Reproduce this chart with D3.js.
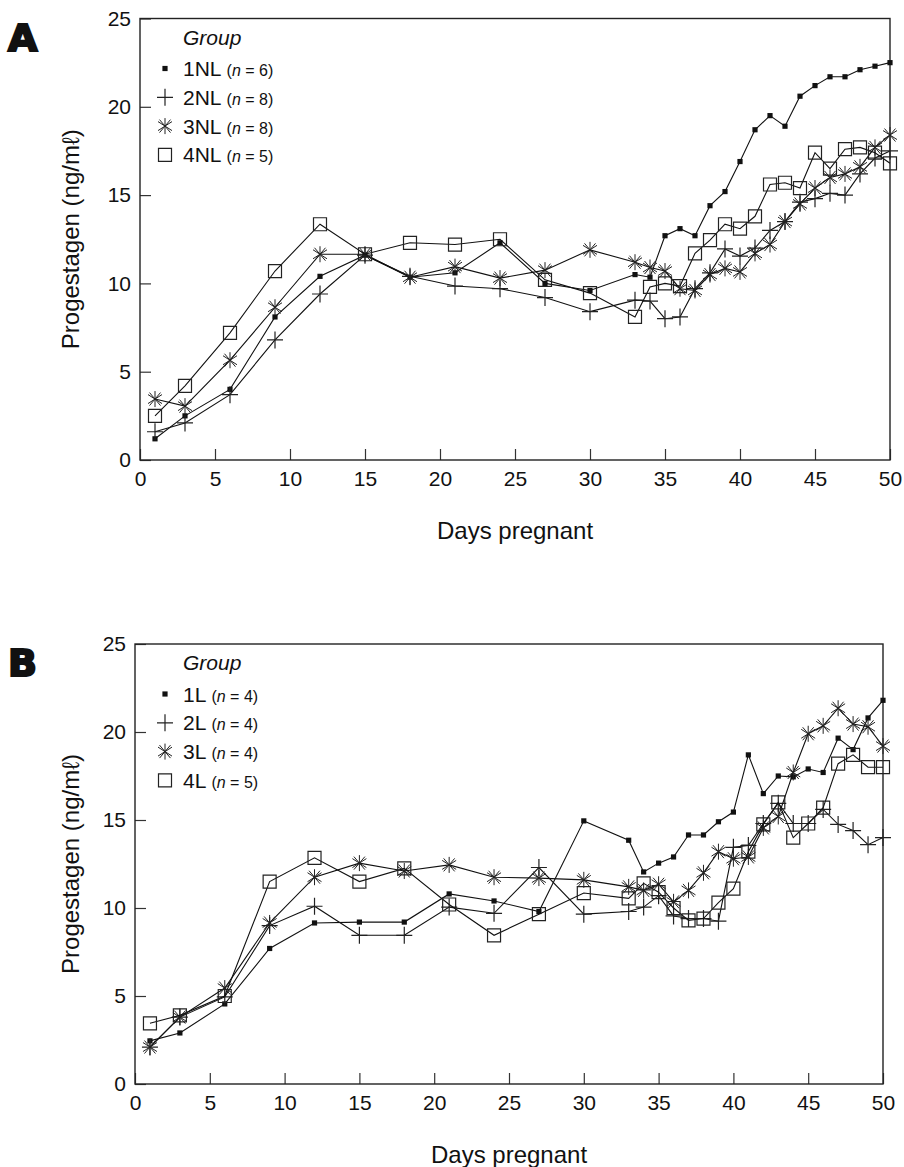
<!DOCTYPE html>
<html>
<head>
<meta charset="utf-8">
<script src="https://cdn.jsdelivr.net/npm/d3@7"></script>
<style>
  body { margin: 0; background: #fff; }
  svg { display: block; }
  text { font-family: "Liberation Sans", Arial, sans-serif; fill: #111; }
  .tick text { font-family: "Liberation Sans Narrow", "Liberation Sans", sans-serif; font-size: 21px; }
</style>
</head>
<body>
<div id="chart"></div>
<script>
const days = [1,3,6,9,12,15,18,21,24,27,30,33,34,35,36,37,38,39,40,41,42,43,44,45,46,47,48,49,50]

const nl1 = [1.2,2.5,4.0,8.1,10.4,11.6,10.35,10.6,12.3,10.0,9.6,10.5,10.35,12.7,13.1,12.7,14.4,15.2,16.9,18.7,19.5,18.9,20.6,21.2,21.7,21.7,22.1,22.3,22.5]
const nl2 = [1.6,2.1,3.7,6.8,9.4,11.6,10.4,9.85,9.7,9.2,8.4,9.05,9.0,8.0,8.1,9.7,10.6,11.95,11.55,12.0,13.0,13.5,14.6,14.8,15.1,15.0,16.2,17.1,17.5]
const nl3 = [3.45,3.05,5.65,8.65,11.65,11.65,10.35,10.95,10.3,10.75,11.9,11.2,10.9,10.7,9.7,9.6,10.5,10.85,10.65,11.7,12.2,13.5,14.5,15.4,16.0,16.2,16.6,17.7,18.4]
const nl4 = [2.5,4.2,7.2,10.7,13.35,11.65,12.3,12.2,12.5,10.2,9.45,8.1,9.8,10.0,9.85,11.7,12.45,13.35,13.1,13.8,15.6,15.7,15.4,17.4,16.5,17.6,17.7,17.4,16.8]

const l1 = [2.45,2.9,4.55,7.7,9.15,9.2,9.2,10.8,10.4,9.8,14.95,13.85,12.05,12.55,12.9,14.15,14.15,14.9,15.45,18.7,16.5,17.5,17.45,17.9,17.7,19.65,19.0,20.8,21.8]
const l2 = [2.1,3.8,4.95,9.0,10.1,8.45,8.45,10.05,9.7,12.3,9.65,9.8,10.05,10.7,9.55,9.4,9.4,9.25,13.45,13.55,14.8,15.95,14.8,14.8,15.6,14.75,14.4,13.6,14.0]
const l3 = [2.1,3.8,5.45,9.15,11.75,12.55,12.1,12.45,11.75,11.7,11.6,11.2,11.0,11.35,10.35,11.0,12.0,13.2,12.8,12.9,14.55,15.2,17.7,19.9,20.35,21.35,20.45,20.3,19.2]
const l4 = [3.45,3.9,5.0,11.5,12.85,11.5,12.25,10.2,8.45,9.65,10.85,10.55,11.4,10.9,10.0,9.3,9.4,10.3,11.1,13.2,14.75,16.0,14.0,14.8,15.7,18.2,18.7,18.0,18.0]

const groupsA = ["1NL", "2NL", "3NL", "4NL"]
const nA = [6, 8, 8, 5]
const groupsB = ["1L", "2L", "3L", "4L"]
const nB = [4, 4, 4, 5]
const markers = ["dot", "plus", "star", "square"]

const xTicks = [0,5,10,15,20,25,30,35,40,45,50]
const yTicks = [0,5,10,15,20,25]

const width = 904, height = 1167
const svg = d3.select("#chart").append("svg")
    .attr("width", width).attr("height", height)
    .attr("viewBox", `0 0 ${width} ${height}`)

function markerPath(type) {
    if (type === "dot") return "M-2.6,-2.6h5.2v5.2h-5.2z"
    if (type === "plus") return "M-8,0H8M0,-8.5V8.5"
    if (type === "square") return "M-6.5,-6.5h13v13h-13z"
    return "M0,-8V8M-7,-4.5L7,4.5M-7,4.5L7,-4.5M-5.5,-6.5L5.5,6.5M-5.5,6.5L5.5,-6.5"
}

function drawMarker(sel, type) {
    sel.append("path")
        .attr("d", markerPath(type))
        .attr("fill", type === "dot" ? "#111" : "none")
        .attr("stroke", type === "dot" ? "none" : "#222")
        .attr("stroke-width", type === "star" ? 1 : 1.2)
}

function drawPanel(p) {
    const x = d3.scaleLinear().domain([0, 50]).range([p.left, p.right])
    const y = d3.scaleLinear().domain([0, 25]).range([p.bottom, p.top])
    const g = svg.append("g")

    g.append("g")
        .attr("transform", `translate(0,${p.bottom})`)
        .call(d3.axisBottom(x).tickValues(xTicks).tickSize(-11).tickSizeOuter(0).tickPadding(11))
        .call(a => a.select(".domain").remove())
        .call(a => a.selectAll(".tick line").attr("stroke", "#333").attr("stroke-width", 1.2))

    g.append("g")
        .attr("transform", `translate(${p.left},0)`)
        .call(d3.axisLeft(y).tickValues(yTicks).tickSize(-11).tickSizeOuter(0).tickPadding(9))
        .call(a => a.select(".domain").remove())
        .call(a => a.selectAll(".tick line").attr("stroke", "#333").attr("stroke-width", 1.2))

    g.selectAll(".tick text").attr("fill", "#111")

    g.append("rect")
        .attr("x", p.left).attr("y", p.top)
        .attr("width", p.right - p.left).attr("height", p.bottom - p.top)
        .attr("fill", "none").attr("stroke", "#222").attr("stroke-width", 1.4)

    const line = d3.line().x(d => x(d[0])).y(d => y(d[1]))

    p.series.forEach((vals, i) => {
        const pts = days.map((d, j) => [d, vals[j]])
        g.append("path")
            .datum(pts)
            .attr("d", line)
            .attr("fill", "none")
            .attr("stroke", "#111")
            .attr("stroke-width", 1.1)
        const m = g.selectAll(null).data(pts).enter().append("g")
            .attr("transform", d => `translate(${x(d[0])},${y(d[1])})`)
        drawMarker(m, markers[i])
    })

    // legend
    g.append("text")
        .attr("x", 183).attr("y", p.top + 26)
        .style("font-size", "21px").style("font-style", "italic")
        .text("Group")
    p.groups.forEach((name, i) => {
        const cy = p.top + 50 + i * 28.8
        const m = g.append("g").attr("transform", `translate(165,${cy})`)
        drawMarker(m, markers[i])
        const t = g.append("text").attr("x", 183).attr("y", cy + 7.5).style("font-size", "21px")
        t.append("tspan").text(name + " ")
        t.append("tspan").style("font-size", "16px").text("(")
        t.append("tspan").style("font-size", "16px").style("font-style", "italic").text("n")
        t.append("tspan").style("font-size", "16px").text(` = ${p.ns[i]})`)
    })

    g.append("text")
        .attr("x", (p.left + p.right) / 2).attr("y", p.bottom + 79)
        .attr("text-anchor", "middle")
        .style("font-size", "24px")
        .text("Days pregnant")

    g.append("text")
        .attr("transform", `translate(79,${(p.top + p.bottom) / 2}) rotate(-90)`)
        .attr("text-anchor", "middle")
        .style("font-size", "24px")
        .text("Progestagen (ng/mℓ)")

    g.append("text")
        .attr("x", 8).attr("y", p.top + 32)
        .style("font-size", "38px").style("font-weight", "900")
        .style("font-family", "'DejaVu Sans', 'Liberation Sans', sans-serif")
        .attr("stroke", "#111").attr("stroke-width", 2.2)
        .text(p.label)
}

drawPanel({label: "A", left: 140, right: 890, top: 18.5, bottom: 460, series: [nl1, nl2, nl3, nl4], groups: groupsA, ns: nA})
drawPanel({label: "B", left: 135, right: 883, top: 644, bottom: 1084, series: [l1, l2, l3, l4], groups: groupsB, ns: nB})
</script>
</body>
</html>
